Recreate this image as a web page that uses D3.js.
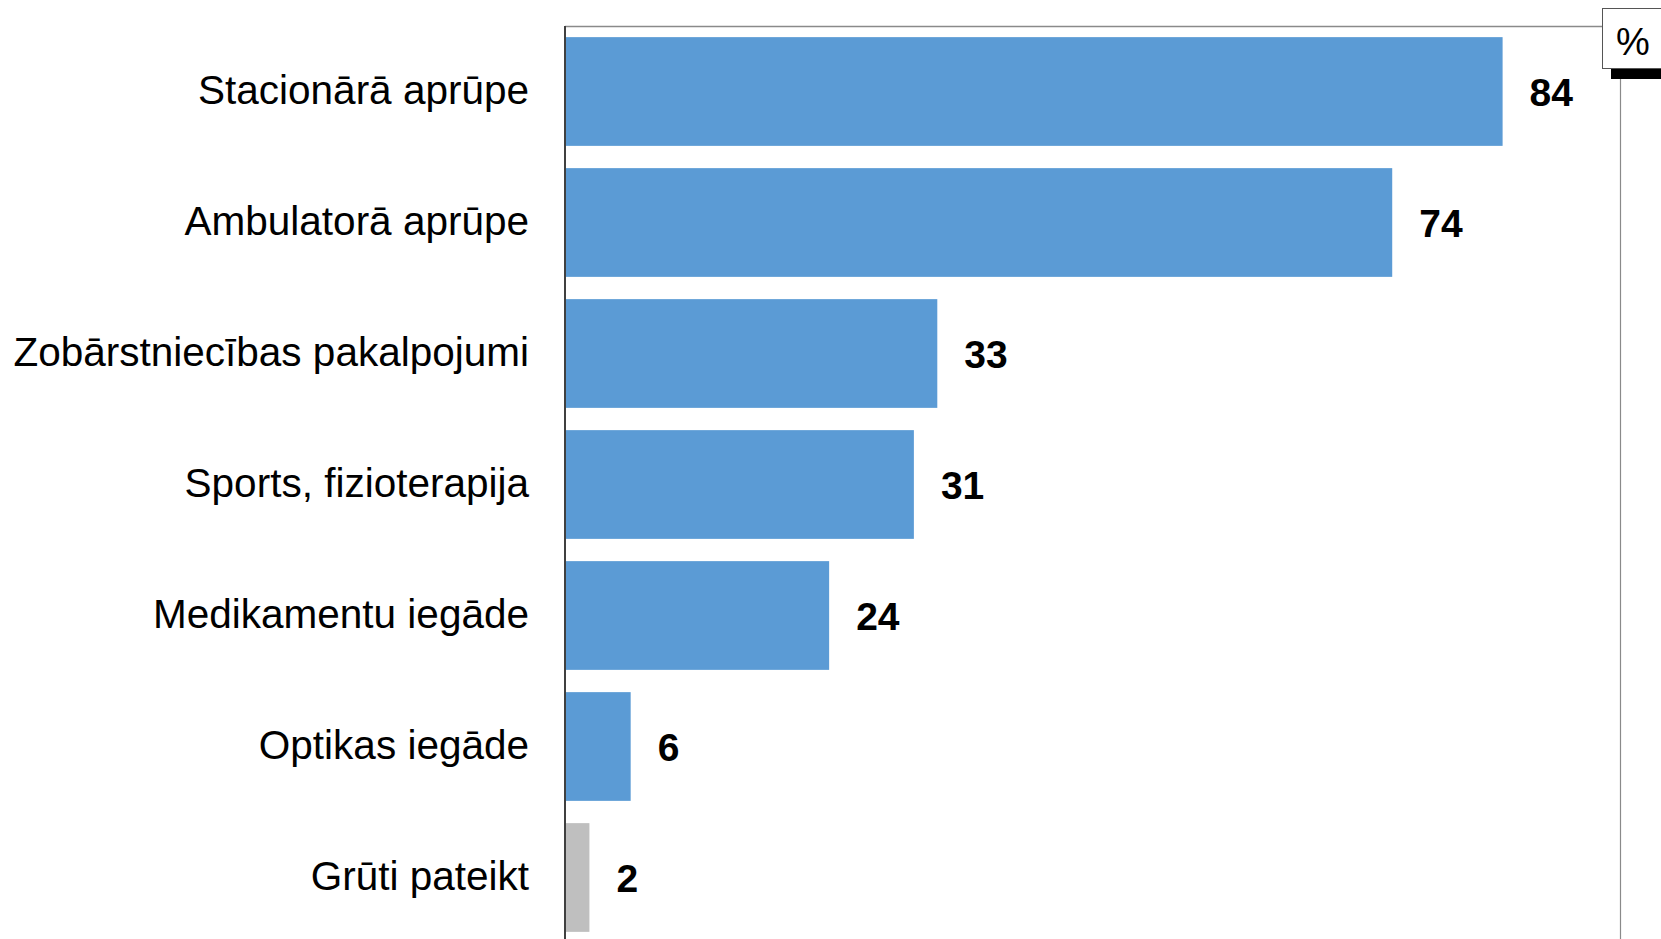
<!DOCTYPE html>
<html>
<head>
<meta charset="utf-8">
<script src="https://cdn.jsdelivr.net/npm/d3@7"></script>
<style>
  html, body { margin: 0; padding: 0; background: #fff; }
  svg { display: block; font-family: "Liberation Sans", Arial, sans-serif; }
</style>
</head>
<body>
<div id="chart"></div>
<script>
const categories = [
  "Stacionārā aprūpe",
  "Ambulatorā aprūpe",
  "Zobārstniecības pakalpojumi",
  "Sports, fizioterapija",
  "Medikamentu iegāde",
  "Optikas iegāde",
  "Grūti pateikt"
];
// shares; labels show them rounded
const values = [84, 74.1, 33.3, 31.2, 23.6, 5.8, 2.1];
const unit = "%";

const width = 1661, height = 939;
const plotLeft = 566, plotTop = 26;

const svg = d3.select("#chart").append("svg")
  .attr("width", width)
  .attr("height", height);

const x = d3.scaleLinear().domain([0, 100]).range([plotLeft, plotLeft + 1115]);
const y = d3.scaleBand().domain(categories).range([plotTop, 943])
  .paddingInner(0.17).paddingOuter(0.085);

// frame lines
svg.append("line")
  .attr("x1", plotLeft - 1).attr("x2", 1602)
  .attr("y1", plotTop + 0.5).attr("y2", plotTop + 0.5)
  .attr("stroke", "#8a8a8a").attr("stroke-width", 1.5);
svg.append("line")
  .attr("x1", 1620.5).attr("x2", 1620.5)
  .attr("y1", 79).attr("y2", height)
  .attr("stroke", "#8a8a8a").attr("stroke-width", 1.2);

// bars
svg.append("g").selectAll("rect")
  .data(values)
  .enter()
  .append("rect")
  .attr("x", x(0))
  .attr("y", (d, i) => y(categories[i]))
  .attr("width", (d) => x(d) - x(0))
  .attr("height", y.bandwidth())
  .attr("fill", (d, i) => (i === categories.length - 1 ? "#bfbfbf" : "#5b9bd5"));

// value labels
svg.append("g").selectAll("text")
  .data(values)
  .enter()
  .append("text")
  .attr("x", (d) => x(d) + 27)
  .attr("y", (d, i) => y(categories[i]) + y.bandwidth() / 2)
  .attr("dy", "0.36em")
  .attr("font-size", 39)
  .attr("font-weight", "bold")
  .text((d) => d3.format(".0f")(d));

// category labels
svg.append("g")
  .attr("transform", `translate(${plotLeft},0)`)
  .call(d3.axisLeft(y).tickSize(0).tickPadding(37))
  .call((g) => g.select(".domain").remove())
  .selectAll("text")
  .attr("font-size", 40.5)
  .attr("fill", "#000")
  .attr("font-family", "'Liberation Sans', Arial, sans-serif");

// left axis line
svg.append("line")
  .attr("x1", plotLeft - 1).attr("x2", plotLeft - 1)
  .attr("y1", plotTop).attr("y2", height)
  .attr("stroke", "#404040").attr("stroke-width", 2);

// unit box
svg.append("rect")
  .attr("x", 1611).attr("y", 68)
  .attr("width", 60).attr("height", 11)
  .attr("fill", "#000");
svg.append("rect")
  .attr("x", 1602.5).attr("y", 8.5)
  .attr("width", 70).attr("height", 60)
  .attr("fill", "#fff")
  .attr("stroke", "#555").attr("stroke-width", 1);
svg.append("text")
  .attr("x", 1633).attr("y", 41)
  .attr("dy", "0.36em")
  .attr("text-anchor", "middle")
  .attr("font-size", 38)
  .text(unit);
</script>
</body>
</html>
